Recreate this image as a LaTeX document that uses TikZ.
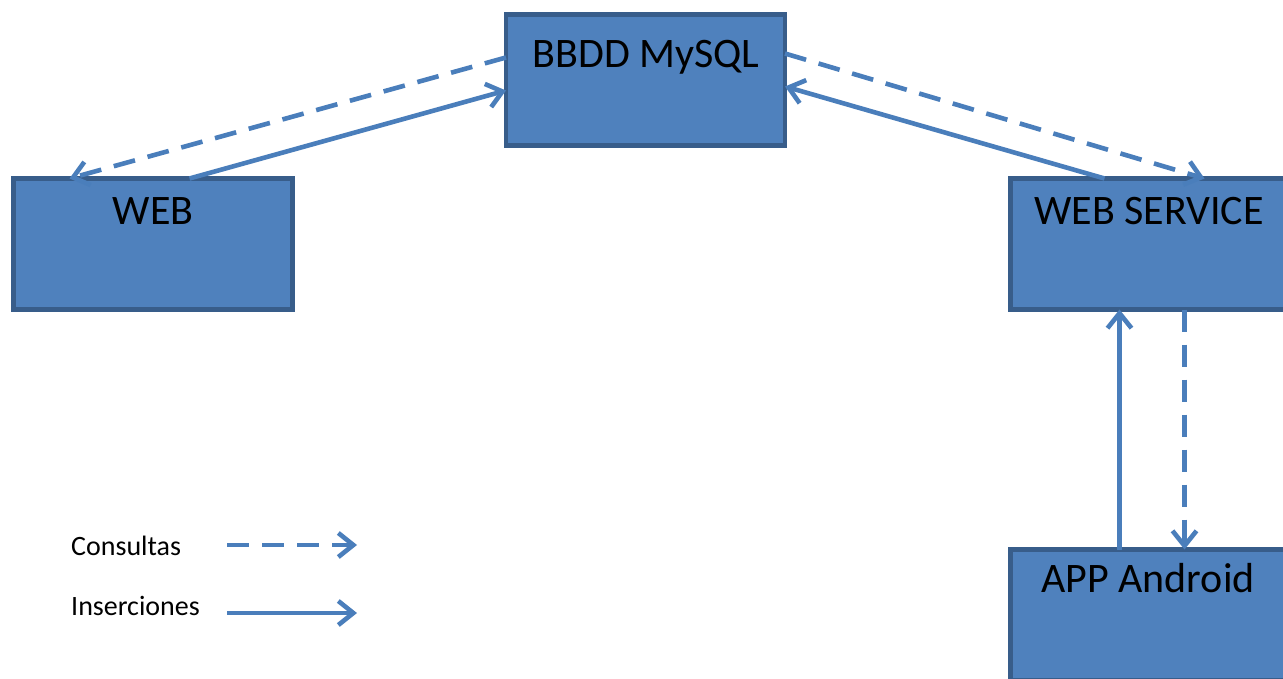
\documentclass[tikz,border=0pt]{standalone}
\usepackage{fontspec}
\setmainfont{Carlito}
\usetikzlibrary{arrows.meta,calc}
\definecolor{boxfill}{HTML}{4F81BD}
\definecolor{boxline}{HTML}{385D8A}
\definecolor{arrowcol}{HTML}{4A7EBB}
\tikzset{
  compbox/.style={draw=boxline, fill=boxfill, line width=4.5pt, rectangle, inner sep=0pt, outer sep=0pt},
  boxtext/.style={font=\fontsize{42}{48}\selectfont, anchor=base, inner sep=0pt, text=black},
  legtext/.style={font=\fontsize{28}{34}\selectfont, anchor=base west, inner sep=0pt, text=black},
  conn/.style={draw=arrowcol, line width=4.6pt, -{Straight Barb[length=15pt,width=24pt]}},
  qry/.style={conn, dash pattern=on 22pt off 13pt},
  ins/.style={conn}
}
\begin{document}
\begin{tikzpicture}[x=1pt,y=-1pt]
\useasboundingbox (0,0) rectangle (1283,679);
\clip (0,0) rectangle (1283,679);
\fill[white] (0,0) rectangle (1283,679);

\node[compbox, minimum width=279pt, minimum height=131pt] (bbdd) at (645.5,80) {};
\node[compbox, minimum width=279pt, minimum height=131pt] (web) at (153,244) {};
\node[compbox, minimum width=277pt, minimum height=131pt] (ws) at (1149,244) {};
\node[compbox, minimum width=277pt, minimum height=131pt] (app) at (1149,615) {};

\node[boxtext] (tbbdd) at (646,68) {BBDD MySQL};
\node[boxtext] (tweb) at (153,225) {WEB};
\node[boxtext] (tws) at (1149,225) {WEB SERVICE};
\node[boxtext] (tapp) at (1148,592) {APP Android};

% BBDD <-> WEB
\draw[qry] ($(bbdd.north west)+(0,43)$) -- ($(web.north west)+(56,0)$);
\draw[ins] ($(web.north west)+(176,0)$) -- ($(bbdd.north west)+(0,76)$);
% BBDD <-> WEB SERVICE
\draw[ins] ($(ws.north west)+(94,0)$) -- ($(bbdd.north east)+(0,72)$);
\draw[qry] ($(bbdd.north east)+(0,39)$) -- ($(ws.north west)+(194,0)$);
% WEB SERVICE <-> APP
\draw[ins] ($(app.north west)+(109,0)$) -- ($(ws.south west)+(109,0)$);
\draw[qry] ($(ws.south west)+(174,0)$) -- ($(app.north west)+(174,0)$);

% Legend
\node[legtext] (lcons) at (71,555) {Consultas};
\node[legtext] (lins) at (71,615) {Inserciones};
\coordinate (c1) at (227,545);
\coordinate (c2) at (357,545);
\coordinate (i1) at (227,613);
\coordinate (i2) at (357,613);
\draw[qry] (c1) -- (c2);
\draw[ins] (i1) -- (i2);
\end{tikzpicture}
\end{document}
